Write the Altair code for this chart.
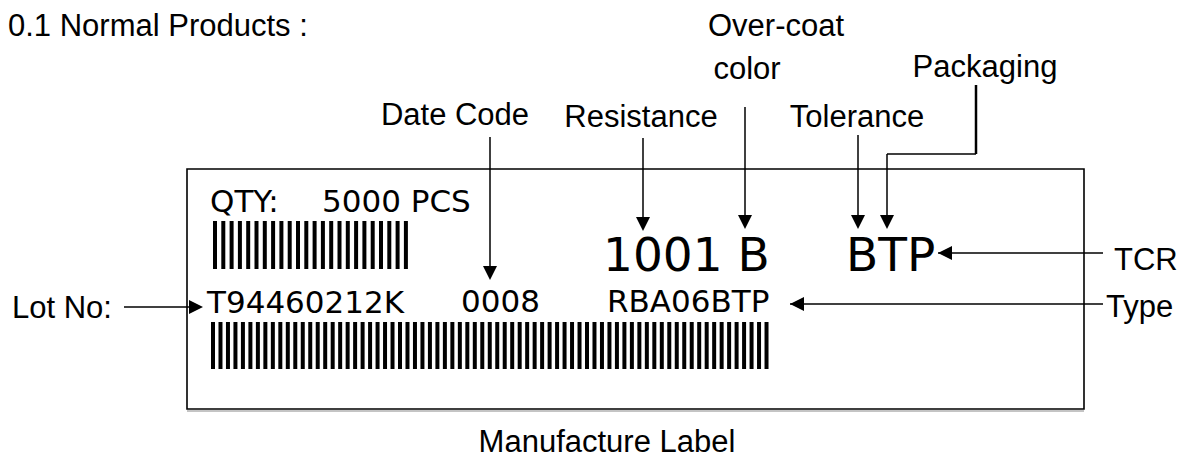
import altair as alt
import pandas as pd

# ---- diagram geometry (image pixel coordinates) ----
W, H = 1176, 452          # plot area = window minus the 8px page margin
X_DOMAIN = [8, 1184]
Y_DOMAIN = [8, 460]

# Callout labels (Arial-like)
callout_text = ["Over-coat", "color", "Packaging", "Date Code", "Resistance", "Tolerance", "Manufacture Label"]
callout_x = [776, 747, 985, 455, 641, 857, 607]
callout_y = [36, 79, 77, 125, 127, 127, 452]

side_text = ["0.1 Normal Products :", "TCR", "Lot No:", "Type"]
side_x = [8, 1114, 12, 1106]
side_y = [36, 270, 318, 317]

# Label contents (Verdana-like)
label_text = ["QTY:", "5000 PCS", "T94460212K", "0008", "RBA06BTP"]
label_x = [210, 322, 207, 461, 607]
label_y = [212, 212, 313, 312, 312]

big_text = ["1001 B", "BTP"]
big_x = [603, 846]
big_y = [271, 271]

# Label frame
box_x, box_x2, box_y, box_y2 = [187], [1084], [169], [409]

# Leader lines
seg_x1 = [124, 490, 643, 745, 858, 887, 887, 938, 790]
seg_y1 = [307, 137, 138, 107, 135, 154, 154, 253, 304]
seg_x2 = [200, 490, 643, 745, 858, 976, 887, 1103, 1103]
seg_y2 = [307, 276, 228, 225, 225, 154, 225, 253, 304]
# thicker packaging riser
pk_x1, pk_y1, pk_x2, pk_y2 = [976], [85], [976], [154]

# Arrow heads: tip position and direction (0 down, 90 left, 270 right)
tip_x = [203, 490, 643, 745, 858, 887, 938, 790]
tip_y = [307, 280, 231, 229, 229, 229, 253, 304]
tip_angle = [270, 0, 0, 0, 0, 0, 90, 90]

# Barcodes: start x, bar pitch, bar count, top, bottom
bc_start = [213, 211]
bc_pitch = [8.3, 7.48]
bc_count = [24, 75]
bc_top = [221, 322]
bc_bottom = [269, 369]
BAR_W = 4

# ---- build tables ----
bars = []
for s, p, n, t, b in zip(bc_start, bc_pitch, bc_count, bc_top, bc_bottom):
    for i in range(n):
        bars.append({"x": s + i * p, "x2": s + i * p + BAR_W, "y": t, "y2": b})
bars = pd.DataFrame(bars)

xs = alt.Scale(domain=X_DOMAIN, nice=False, zero=False)
ys = alt.Scale(domain=Y_DOMAIN, nice=False, zero=False, reverse=True)

def X(f):
    return alt.X(f, type="quantitative", scale=xs, axis=None)

def Y(f):
    return alt.Y(f, type="quantitative", scale=ys, axis=None)

callouts = alt.Chart(pd.DataFrame({"t": callout_text, "x": callout_x, "y": callout_y})).mark_text(
    font="Liberation Sans", fontSize=31, align="center", baseline="alphabetic", color="black"
).encode(x=X("x"), y=Y("y"), text="t:N")

sides = alt.Chart(pd.DataFrame({"t": side_text, "x": side_x, "y": side_y})).mark_text(
    font="Liberation Sans", fontSize=31, align="left", baseline="alphabetic", color="black"
).encode(x=X("x"), y=Y("y"), text="t:N")

labels = alt.Chart(pd.DataFrame({"t": label_text, "x": label_x, "y": label_y})).mark_text(
    font="DejaVu Sans", fontSize=31, align="left", baseline="alphabetic", color="black"
).encode(x=X("x"), y=Y("y"), text="t:N")

bigs = alt.Chart(pd.DataFrame({"t": big_text, "x": big_x, "y": big_y})).mark_text(
    font="DejaVu Sans", fontSize=47, align="left", baseline="alphabetic", color="black"
).encode(x=X("x"), y=Y("y"), text="t:N")

shadow = alt.Chart(pd.DataFrame({"x": box_x, "x2": box_x2, "y": [b + 2 for b in box_y2]})).mark_rule(
    color="#b0b0b0", strokeWidth=1.5
).encode(x=X("x"), x2="x2:Q", y=Y("y"))

frame = alt.Chart(pd.DataFrame({"x": box_x, "x2": box_x2, "y": box_y, "y2": box_y2})).mark_rect(
    fill="white", stroke="black", strokeWidth=1.6
).encode(x=X("x"), x2="x2:Q", y=Y("y"), y2="y2:Q")

barcode = alt.Chart(bars).mark_rect(color="black").encode(
    x=X("x"), x2="x2:Q", y=Y("y"), y2="y2:Q"
)

segs = alt.Chart(pd.DataFrame({"x": seg_x1, "y": seg_y1, "x2": seg_x2, "y2": seg_y2})).mark_rule(
    color="black", strokeWidth=1.5
).encode(x=X("x"), y=Y("y"), x2="x2:Q", y2="y2:Q")

pk = alt.Chart(pd.DataFrame({"x": pk_x1, "y": pk_y1, "x2": pk_x2, "y2": pk_y2})).mark_rule(
    color="black", strokeWidth=2.5
).encode(x=X("x"), y=Y("y"), x2="x2:Q", y2="y2:Q")

heads = alt.Chart(pd.DataFrame({"x": tip_x, "y": tip_y, "a": tip_angle})).mark_point(
    shape="M0,0 L-0.5,-1 L0.5,-1 Z", size=784, filled=True, fill="black", stroke=None, opacity=1
).encode(x=X("x"), y=Y("y"), angle=alt.Angle("a:Q", scale=None))

chart = alt.layer(
    shadow, frame, barcode, segs, pk, heads, callouts, sides, labels, bigs
).properties(
    width=W, height=H, padding=0, autosize=alt.AutoSizeParams(type="none"), background="white"
).configure_view(stroke=None)

chart.save("out.html", embed_options={"renderer": "svg", "actions": False})
